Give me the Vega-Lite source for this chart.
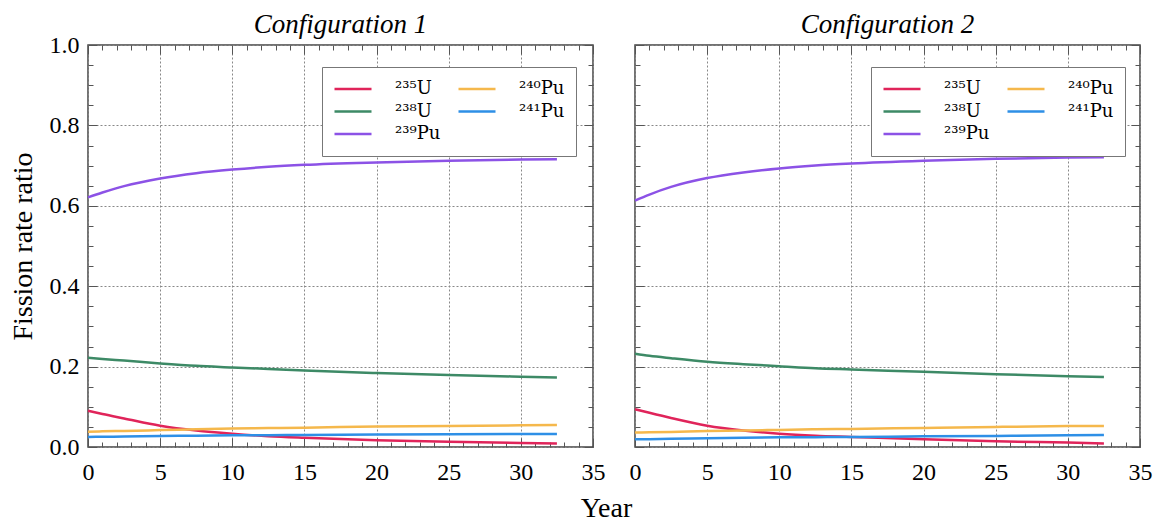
{
  "$schema": "https://vega.github.io/schema/vega-lite/v6.json",
  "background": "white",
  "padding": {"left": 8, "right": 5, "top": 9, "bottom": 5},
  "data": {"values": [
    {"config": "Configuration 1", "year": 0, "²³⁵U": 0.090, "²³⁸U": 0.222, "²³⁹Pu": 0.621, "²⁴⁰Pu": 0.038, "²⁴¹Pu": 0.025},
    {"config": "Configuration 1", "year": 1, "²³⁵U": 0.082, "²³⁸U": 0.219, "²³⁹Pu": 0.633, "²⁴⁰Pu": 0.039, "²⁴¹Pu": 0.0255},
    {"config": "Configuration 1", "year": 2.5, "²³⁵U": 0.071, "²³⁸U": 0.215, "²³⁹Pu": 0.649, "²⁴⁰Pu": 0.040, "²⁴¹Pu": 0.026},
    {"config": "Configuration 1", "year": 5, "²³⁵U": 0.053, "²³⁸U": 0.208, "²³⁹Pu": 0.668, "²⁴⁰Pu": 0.042, "²⁴¹Pu": 0.0275},
    {"config": "Configuration 1", "year": 7.5, "²³⁵U": 0.041, "²³⁸U": 0.202, "²³⁹Pu": 0.681, "²⁴⁰Pu": 0.044, "²⁴¹Pu": 0.028},
    {"config": "Configuration 1", "year": 10, "²³⁵U": 0.033, "²³⁸U": 0.198, "²³⁹Pu": 0.690, "²⁴⁰Pu": 0.046, "²⁴¹Pu": 0.029},
    {"config": "Configuration 1", "year": 12.5, "²³⁵U": 0.027, "²³⁸U": 0.194, "²³⁹Pu": 0.697, "²⁴⁰Pu": 0.047, "²⁴¹Pu": 0.0295},
    {"config": "Configuration 1", "year": 15, "²³⁵U": 0.023, "²³⁸U": 0.190, "²³⁹Pu": 0.702, "²⁴⁰Pu": 0.048, "²⁴¹Pu": 0.030},
    {"config": "Configuration 1", "year": 20, "²³⁵U": 0.017, "²³⁸U": 0.184, "²³⁹Pu": 0.708, "²⁴⁰Pu": 0.051, "²⁴¹Pu": 0.031},
    {"config": "Configuration 1", "year": 25, "²³⁵U": 0.013, "²³⁸U": 0.179, "²³⁹Pu": 0.712, "²⁴⁰Pu": 0.0525, "²⁴¹Pu": 0.032},
    {"config": "Configuration 1", "year": 30, "²³⁵U": 0.010, "²³⁸U": 0.175, "²³⁹Pu": 0.715, "²⁴⁰Pu": 0.054, "²⁴¹Pu": 0.0325},
    {"config": "Configuration 1", "year": 32.5, "²³⁵U": 0.009, "²³⁸U": 0.173, "²³⁹Pu": 0.716, "²⁴⁰Pu": 0.055, "²⁴¹Pu": 0.0325},
    {"config": "Configuration 2", "year": 0, "²³⁵U": 0.094, "²³⁸U": 0.232, "²³⁹Pu": 0.613, "²⁴⁰Pu": 0.036, "²⁴¹Pu": 0.019},
    {"config": "Configuration 2", "year": 1, "²³⁵U": 0.085, "²³⁸U": 0.227, "²³⁹Pu": 0.628, "²⁴⁰Pu": 0.0365, "²⁴¹Pu": 0.0195},
    {"config": "Configuration 2", "year": 2.5, "²³⁵U": 0.072, "²³⁸U": 0.221, "²³⁹Pu": 0.647, "²⁴⁰Pu": 0.0375, "²⁴¹Pu": 0.0205},
    {"config": "Configuration 2", "year": 5, "²³⁵U": 0.053, "²³⁸U": 0.212, "²³⁹Pu": 0.669, "²⁴⁰Pu": 0.040, "²⁴¹Pu": 0.0215},
    {"config": "Configuration 2", "year": 7.5, "²³⁵U": 0.041, "²³⁸U": 0.206, "²³⁹Pu": 0.683, "²⁴⁰Pu": 0.041, "²⁴¹Pu": 0.023},
    {"config": "Configuration 2", "year": 10, "²³⁵U": 0.033, "²³⁸U": 0.201, "²³⁹Pu": 0.693, "²⁴⁰Pu": 0.0425, "²⁴¹Pu": 0.024},
    {"config": "Configuration 2", "year": 12.5, "²³⁵U": 0.028, "²³⁸U": 0.196, "²³⁹Pu": 0.700, "²⁴⁰Pu": 0.044, "²⁴¹Pu": 0.0245},
    {"config": "Configuration 2", "year": 15, "²³⁵U": 0.025, "²³⁸U": 0.193, "²³⁹Pu": 0.705, "²⁴⁰Pu": 0.045, "²⁴¹Pu": 0.025},
    {"config": "Configuration 2", "year": 20, "²³⁵U": 0.019, "²³⁸U": 0.187, "²³⁹Pu": 0.712, "²⁴⁰Pu": 0.0475, "²⁴¹Pu": 0.0265},
    {"config": "Configuration 2", "year": 25, "²³⁵U": 0.014, "²³⁸U": 0.181, "²³⁹Pu": 0.717, "²⁴⁰Pu": 0.050, "²⁴¹Pu": 0.0275},
    {"config": "Configuration 2", "year": 30, "²³⁵U": 0.011, "²³⁸U": 0.176, "²³⁹Pu": 0.720, "²⁴⁰Pu": 0.052, "²⁴¹Pu": 0.029},
    {"config": "Configuration 2", "year": 32.5, "²³⁵U": 0.009, "²³⁸U": 0.174, "²³⁹Pu": 0.721, "²⁴⁰Pu": 0.0525, "²⁴¹Pu": 0.030}
  ]},
  "title": {"text": "Year", "orient": "bottom", "anchor": "middle", "font": "Liberation Serif", "fontSize": 28, "fontStyle": "normal", "fontWeight": "normal", "color": "black", "offset": 6, "dx": 26},
  "spacing": 22,
  "hconcat": [
    {
      "width": 505, "height": 402,
      "title": {"text": "Configuration 1", "font": "Liberation Serif", "fontStyle": "italic", "fontSize": 27, "fontWeight": "normal", "color": "black", "offset": -6},
      "transform": [
        {"filter": "datum.config === 'Configuration 1'"},
        {"fold": ["²³⁵U", "²³⁸U", "²³⁹Pu", "²⁴⁰Pu", "²⁴¹Pu"], "as": ["isotope", "ratio"]}
      ],
      "layer": [
        {
          "mark": {"type": "line", "strokeWidth": 2.5, "interpolate": "monotone"},
          "encoding": {
            "x": {"field": "year", "type": "quantitative", "scale": {"domain": [0, 35], "nice": false},
              "axis": {"orient": "bottom", "title": null, "labelFont": "Liberation Serif", "labelPadding": 22, "values": [0,1,2,3,4,5,6,7,8,9,10,11,12,13,14,15,16,17,18,19,20,21,22,23,24,25,26,27,28,29,30,31,32,33,34,35],
                "labelExpr": "datum.value % 5 === 0 ? datum.label : ''",
                "tickSize": {"condition": {"test": "datum.value % 5 === 0", "value": -9}, "value": -5},
                "gridOpacity": {"condition": {"test": "datum.value % 5 === 0", "value": 1}, "value": 0}}},
            "y": {"field": "ratio", "type": "quantitative", "scale": {"domain": [0, 1], "nice": false},
              "axis": {"orient": "left", "title": "Fission rate ratio", "format": ".1f", "labelFont": "Liberation Serif", "labelPadding": 18, "titlePadding": 12,
                "values": [0,0.05,0.1,0.15,0.2,0.25,0.3,0.35,0.4,0.45,0.5,0.55,0.6,0.65,0.7,0.75,0.8,0.85,0.9,0.95,1],
                "labelExpr": "abs(datum.value*5 - round(datum.value*5)) < 0.001 ? datum.label : ''",
                "tickSize": {"condition": {"test": "abs(datum.value*5 - round(datum.value*5)) < 0.001", "value": -9}, "value": -5},
                "gridOpacity": {"condition": {"test": "abs(datum.value*5 - round(datum.value*5)) < 0.001", "value": 1}, "value": 0}}},
            "color": {"field": "isotope", "type": "nominal",
              "scale": {"domain": ["²³⁵U", "²³⁸U", "²³⁹Pu", "²⁴⁰Pu", "²⁴¹Pu"], "range": ["#e0245a", "#3d8a66", "#8c52e6", "#f5b84c", "#2e8fe6"]},
              "legend": {"orient": "none", "legendX": 234, "legendY": 22, "columns": 2, "title": null,
                "symbolType": "stroke", "symbolSize": 1369, "symbolStrokeWidth": 2.5, "clipHeight": 22,
                "labelFont": "DejaVu Serif", "labelFontSize": 18, "labelColor": "black", "labelOffset": 22,
                "rowPadding": 0.5, "columnPadding": 16, "padding": 11, "strokeColor": "#777", "fillColor": "white"}}
          }
        },
        {
          "mark": {"type": "line", "strokeOpacity": 0},
          "encoding": {
            "x": {"field": "year", "type": "quantitative", "scale": {"domain": [0, 35], "nice": false},
              "axis": {"orient": "top", "title": null, "labels": false, "grid": false, "values": [0,1,2,3,4,5,6,7,8,9,10,11,12,13,14,15,16,17,18,19,20,21,22,23,24,25,26,27,28,29,30,31,32,33,34,35],
                "tickSize": {"condition": {"test": "datum.value % 5 === 0", "value": -9}, "value": -5}}},
            "y": {"field": "ratio", "type": "quantitative", "scale": {"domain": [0, 1], "nice": false},
              "axis": {"orient": "right", "title": null, "labels": false, "grid": false,
                "values": [0,0.05,0.1,0.15,0.2,0.25,0.3,0.35,0.4,0.45,0.5,0.55,0.6,0.65,0.7,0.75,0.8,0.85,0.9,0.95,1],
                "tickSize": {"condition": {"test": "abs(datum.value*5 - round(datum.value*5)) < 0.001", "value": -9}, "value": -5}}},
            "detail": {"field": "isotope"}
          }
        }
      ],
      "resolve": {"axis": {"x": "independent", "y": "independent"}}
    },
    {
      "width": 505, "height": 402,
      "title": {"text": "Configuration 2", "font": "Liberation Serif", "fontStyle": "italic", "fontSize": 27, "fontWeight": "normal", "color": "black", "offset": 6},
      "transform": [
        {"filter": "datum.config === 'Configuration 2'"},
        {"fold": ["²³⁵U", "²³⁸U", "²³⁹Pu", "²⁴⁰Pu", "²⁴¹Pu"], "as": ["isotope", "ratio"]}
      ],
      "layer": [
        {
          "mark": {"type": "line", "strokeWidth": 2.5, "interpolate": "monotone"},
          "encoding": {
            "x": {"field": "year", "type": "quantitative", "scale": {"domain": [0, 35], "nice": false},
              "axis": {"orient": "bottom", "title": null, "labelFont": "Liberation Serif", "labelPadding": 22, "values": [0,1,2,3,4,5,6,7,8,9,10,11,12,13,14,15,16,17,18,19,20,21,22,23,24,25,26,27,28,29,30,31,32,33,34,35],
                "labelExpr": "datum.value % 5 === 0 ? datum.label : ''",
                "tickSize": {"condition": {"test": "datum.value % 5 === 0", "value": -9}, "value": -5},
                "gridOpacity": {"condition": {"test": "datum.value % 5 === 0", "value": 1}, "value": 0}}},
            "y": {"field": "ratio", "type": "quantitative", "scale": {"domain": [0, 1], "nice": false},
              "axis": {"orient": "left", "title": null, "labels": false,
                "values": [0,0.05,0.1,0.15,0.2,0.25,0.3,0.35,0.4,0.45,0.5,0.55,0.6,0.65,0.7,0.75,0.8,0.85,0.9,0.95,1],
                "tickSize": {"condition": {"test": "abs(datum.value*5 - round(datum.value*5)) < 0.001", "value": -9}, "value": -5},
                "gridOpacity": {"condition": {"test": "abs(datum.value*5 - round(datum.value*5)) < 0.001", "value": 1}, "value": 0}}},
            "color": {"field": "isotope", "type": "nominal",
              "scale": {"domain": ["²³⁵U", "²³⁸U", "²³⁹Pu", "²⁴⁰Pu", "²⁴¹Pu"], "range": ["#e0245a", "#3d8a66", "#8c52e6", "#f5b84c", "#2e8fe6"]},
              "legend": {"orient": "none", "legendX": 236, "legendY": 22, "columns": 2, "title": null,
                "symbolType": "stroke", "symbolSize": 1369, "symbolStrokeWidth": 2.5, "clipHeight": 22,
                "labelFont": "DejaVu Serif", "labelFontSize": 18, "labelColor": "black", "labelOffset": 22,
                "rowPadding": 0.5, "columnPadding": 16, "padding": 11, "strokeColor": "#777", "fillColor": "white"}}
          }
        },
        {
          "mark": {"type": "line", "strokeOpacity": 0},
          "encoding": {
            "x": {"field": "year", "type": "quantitative", "scale": {"domain": [0, 35], "nice": false},
              "axis": {"orient": "top", "title": null, "labels": false, "grid": false, "values": [0,1,2,3,4,5,6,7,8,9,10,11,12,13,14,15,16,17,18,19,20,21,22,23,24,25,26,27,28,29,30,31,32,33,34,35],
                "tickSize": {"condition": {"test": "datum.value % 5 === 0", "value": -9}, "value": -5}}},
            "y": {"field": "ratio", "type": "quantitative", "scale": {"domain": [0, 1], "nice": false},
              "axis": {"orient": "right", "title": null, "labels": false, "grid": false,
                "values": [0,0.05,0.1,0.15,0.2,0.25,0.3,0.35,0.4,0.45,0.5,0.55,0.6,0.65,0.7,0.75,0.8,0.85,0.9,0.95,1],
                "tickSize": {"condition": {"test": "abs(datum.value*5 - round(datum.value*5)) < 0.001", "value": -9}, "value": -5}}},
            "detail": {"field": "isotope"}
          }
        }
      ],
      "resolve": {"axis": {"x": "independent", "y": "independent"}}
    }
  ],
  "resolve": {"scale": {"color": "independent"}, "legend": {"color": "independent"}},
  "config": {
    "view": {"stroke": "#444", "strokeWidth": 1.5},
    "axis": {"domain": false, "labelFont": "Liberation Serif", "labelFontSize": 24, "labelColor": "black", "labelPadding": 12,
      "labelOverlap": false, "labelFlush": false, "titleFont": "Liberation Serif", "titleFontSize": 28, "titleFontWeight": "normal",
      "titleColor": "black", "titlePadding": 10, "tickColor": "#555", "tickWidth": 1, "gridColor": "#888", "gridDash": [2, 2], "gridWidth": 1}
  }
}
